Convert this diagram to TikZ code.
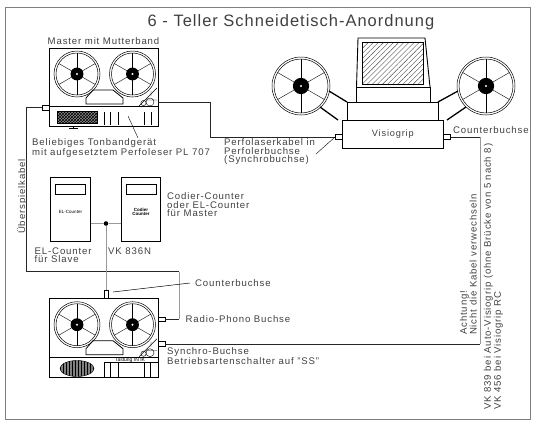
\documentclass[tikz,border=0pt]{standalone}
\usepackage{fontspec}
\setmainfont[LetterSpace=9]{Liberation Sans}
\newfontfamily\titlefont[LetterSpace=6]{Liberation Sans}
\newfontfamily\tagfont{Liberation Sans}
\usetikzlibrary{positioning, patterns, patterns.meta, shapes.geometric}

\begin{document}
\begin{tikzpicture}[x=1pt, y=-1pt,
                  lab/.style={font=\fontsize{9.6}{8.5}\selectfont, text=black!75, inner sep=0pt, align=left},
                  box/.style={draw, line width=0.9pt, inner sep=0pt},
                  jack/.style={draw, fill=white, line width=0.5pt, inner sep=0pt, minimum width=7pt, minimum height=4.5pt},
                  cable/.style={draw, black!85, line width=0.6pt},
                  graycable/.style={draw, black!40, line width=0.9pt},
                  arm/.style={line width=1.3pt},
                  reel/.pic={
                        \draw[line width=0.5pt] (0,0) circle[radius=#1 pt] circle[radius=#1 pt - 2pt];
                        \foreach \a in {30,90,...,330} {\draw[line width=0.4pt] (0,0) -- (\a:#1 pt - 2pt);}
                        \fill (0,0) circle[radius=#1 pt * 0.28];
                        \fill[white] (0,0) circle[radius=1.2pt];
                  },
            ]
            \useasboundingbox (0,0) rectangle (540,426);
            % Outer frame
            \draw[black!50, line width=0.7pt] (5.5,7) rectangle (530,419);
            \node[font=\titlefont\fontsize{16.5}{18}\selectfont, text=black!75, inner sep=0pt] (title) at (291,22)
            {6 - Teller Schneidetisch-Anordnung};

            % Tape decks
            \node[box, minimum width=109pt, minimum height=78pt] (master) at (103.5,87) {};
            \node[box, minimum width=109pt, minimum height=78.5pt] (slave) at (103.5,337.7) {};
            \foreach \name/\dy in {master/0, slave/250.7} {
                  \begin{scope}[yshift=-\dy pt]
                        \pic at (77,74) {reel=23};
                        \pic at (132.5,74) {reel=23};
                        \draw[line width=0.8pt] (86,104) -- (86,98) -- (93,90) -- (113,90) -- (123,98) -- (123,104) -- cycle;
                        \draw[line width=0.5pt] (139,106) -- (157,88);
                        \draw[line width=0.4pt] (150,102) circle[radius=4pt] (143.5,103) circle[radius=2.6pt]
                        (151,96) -- (151,91) (146,100) -- (157,100);
                  \end{scope}
            }

            % Master front panel
            \draw[line width=0.9pt] (49,106) -- (158,106);
            \node[draw, preaction={fill=black!45}, pattern=crosshatch, pattern color=black, minimum width=40pt, minimum height=12pt, inner sep=0pt] (grille) at (77,117) {};
            \foreach \x in {104,110.7,118,144,151} {\draw[line width=0.6pt] (\x,112) -- (\x,125);}
            \draw[line width=0.4pt] (73,126) -- (73,128) (69,128.5) -- (78,128.5);

            % Slave front panel
            \draw[line width=0.9pt] (49,357) -- (158,357);
            \draw[line width=0.5pt] (104,362.7) -- (158,362.7);
            \foreach \x in {104,110.7,118.3,144,150.7} {\draw[line width=0.6pt] (\x,362.7) -- (\x,377);}
            \node[font=\tagfont\fontsize{5}{5}\selectfont, inner sep=0pt] (slavetag) at (130,359.8) {Tastung IN IK};
            \node[draw, ellipse, preaction={fill=black!50}, minimum width=34pt, minimum height=16pt, inner sep=0pt, pattern=vertical lines] (speaker) at (77,368.5) {};

            % Counter boxes
            \node[box, minimum width=40pt, minimum height=64pt] (elcount) at (70.5,209) {};
            \node[box, minimum width=39pt, minimum height=64pt] (codcount) at (141,209) {};
            \node[draw, line width=0.4pt, minimum width=30pt, minimum height=10pt, inner sep=0pt] (eldisp) at (70.5,189) {};
            \node[draw, line width=0.4pt, minimum width=30pt, minimum height=10pt, inner sep=0pt] (coddisp) at (141,189) {};
            \node[font=\tagfont\fontsize{4.5}{4.5}\selectfont, inner sep=0pt] (eltag) at (70.5,212) {EL-Counter};
            \node[font=\tagfont\fontsize{4.5}{4.5}\selectfont\bfseries, align=center, inner sep=0pt] (codtag) at (141,212) {Codier\\[-1pt]Counter};

            % Visiogrip
            \node[box, minimum width=100.5pt, minimum height=27.5pt, font=\fontsize{9.2}{9}\selectfont, text=black!75] (visio) at (392.8,134.2) {Visiogrip};
            \node[box, minimum width=90.5pt, minimum height=18pt] (vbase) at (392.8,111) {};
            \node[draw, line width=0.5pt, minimum width=73.5pt, minimum height=15pt, inner sep=0pt] (vneck) at (393.2,94.5) {};
            \draw[line width=0.9pt] (356.5,87) -- (358,38) -- (425,38) -- (430,87);
            \draw[line width=0.7pt] (356.5,87) -- (430,87);
            \node[draw, line width=0.5pt, pattern={Lines[angle=45, distance=3.6pt, line width=0.4pt]}, pattern color=black!70, minimum width=61pt, minimum height=42pt, inner sep=0pt] (screen) at (392.5,63) {};
            \pic at (301,86) {reel=29};
            \pic at (486,86) {reel=29};
            \draw[arm] (329,91) -- (347,102) (320,107) -- (338,120);
            \draw[arm] (438,102) -- (458,91) (447,120) -- (466,107);

            % Jacks
            \node[jack] (masterjack) at (45.5,107.5) {};
            \node[jack, minimum width=4.5pt, minimum height=8pt] (slavetop) at (106,294) {};
            \node[jack] (radiojack) at (161.5,319) {};
            \node[jack] (synchrojack) at (161.5,343.8) {};
            \node[jack] (visioin) at (339,136.8) {};
            \node[jack] (visioout) at (447,136.8) {};
            \node[fill, circle, inner sep=0pt, minimum size=4.6pt] (junction) at (106,223.5) {};

            % Cables
            \coordinate (perfoout) at (158,102);
            \draw[cable] (perfoout) -- (210,102) |- (visioin.west);
            \draw[cable] (masterjack.west) -| (26.5,271.5) -- (179,271.5);
            \draw[graycable] (179,271.5) -- (179,319);
            \draw[cable] (179,319) -- (radiojack.east);
            \draw[cable] (synchrojack.east) -- (480,343.8);
            \draw[graycable, line width=0.7pt] (480,343.8) -- (480,136.8);
            \draw[cable] (480,136.8) -- (visioout.east);
            \draw[graycable, line width=0.7pt] (elcount.east |- junction) -- (junction) -- (codcount.west |- junction);
            \draw[graycable] (junction) -- (slavetop.north);

            % Labels
            \node[lab] (masterlab) at (103.5,41) {Master mit Mutterband};
            \node[lab, anchor=west] (tapelab) at (32,148) {Beliebiges Tonbandgerät\\mit aufgesetztem Perfoleser PL 707};
            \node[lab, anchor=west] (perfolab) at (224,151.7) {Perfolaserkabel in\\Perfolerbuchse\\(Synchrobuchse)};
            \node[lab, anchor=west] (counterlab) at (167,205) {Codier-Counter\\oder EL-Counter\\für Master};
            \node[lab, anchor=west] (slavelab) at (34.5,255) {EL-Counter\\für Slave};
            \node[lab, anchor=west] (vklab) at (108,251) {VK 836N};
            \node[lab, anchor=west] (cbuchse) at (195,283) {Counterbuchse};
            \node[lab, anchor=west] (radiolab) at (185.5,319) {Radio-Phono Buchse};
            \node[lab, anchor=west] (synchrolab) at (167,356) {Synchro-Buchse\\Betriebsartenschalter auf "SS"};
            \node[lab, anchor=west] (vcbuchse) at (453,130) {Counterbuchse};
            \node[lab, rotate=90, anchor=west] (overlab) at (22,234) {Überspielkabel};
            \node[lab, rotate=90, anchor=south west] (warnlab) at (477,335) {Achtung!\\Nicht die Kabel verwechseln};
            \node[lab, rotate=90, anchor=south west] (vklabs) at (503,410) {VK 839 bei Auto-Visiogrip (ohne Brücke von 5 nach 8)\\VK 456 bei Visiogrip RC};

            % Pointers
            \draw[line width=0.4pt] (128,116) -- (138,138);
            \draw[line width=0.4pt] (visioin.west) -- (316,154);
            \draw[line width=0.5pt] (113,292) -- ([xshift=-5pt]cbuchse.west);
      \end{tikzpicture}
\end{document}
